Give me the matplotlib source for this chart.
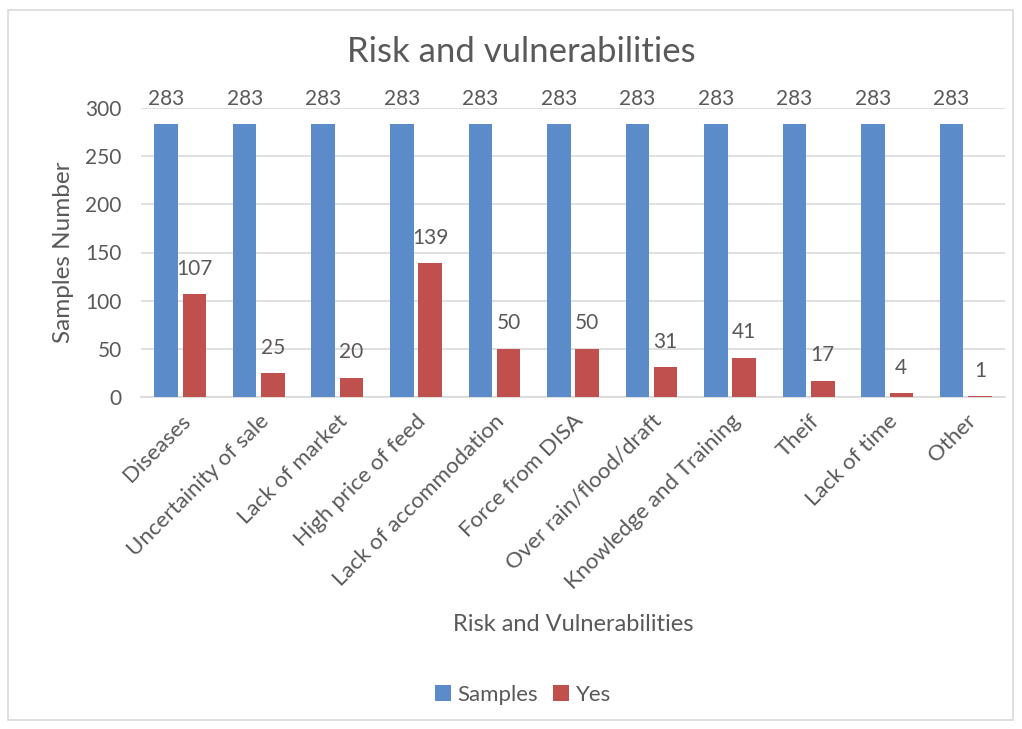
import matplotlib
matplotlib.use("Agg")
import matplotlib.pyplot as plt
import numpy as np
from matplotlib.patches import Rectangle

categories = ["Diseases", "Uncertainity of sale", "Lack of market", "High price of feed",
              "Lack of accommodation", "Force from DISA", "Over rain/flood/draft",
              "Knowledge and Training", "Theif", "Lack of time", "Other"]
samples = [283, 283, 283, 283, 283, 283, 283, 283, 283, 283, 283]
yes = [107, 25, 20, 139, 50, 50, 31, 41, 17, 4, 1]

plt.rcParams['font.family'] = ['Lato', 'DejaVu Sans']
txt = '#595959'
blue = '#5B8CC9'
red = '#C0504D'

fig = plt.figure(figsize=(10.22, 7.29), dpi=100)
fig.patches.append(Rectangle((8/1022, 9/729), 1005/1022, 710/729, transform=fig.transFigure,
                             fill=False, edgecolor='#D9D9D9', linewidth=1.2))
ax = fig.add_axes([141/1022, 1-397/729, (1005-141)/1022, (397-108)/729])

x = np.arange(len(categories))
w = 0.3
off = 0.18
b1 = ax.bar(x - off, samples, w, color=blue, label='Samples', zorder=3)
b2 = ax.bar(x + off, yes, w, color=red, label='Yes', zorder=3)
for rect, v in zip(b1, samples):
    ax.text(rect.get_x() + rect.get_width()/2, v + 16, str(v), ha='center', va='bottom',
            fontsize=15, color=txt)
for rect, v in zip(b2, yes):
    ax.text(rect.get_x() + rect.get_width()/2, v + 16, str(v), ha='center', va='bottom',
            fontsize=15, color=txt)

ax.set_xlim(-0.5, len(categories) - 0.5)
ax.set_ylim(0, 300)
ax.set_yticks(range(0, 301, 50))
ax.yaxis.grid(True, color='#D9D9D9', linewidth=1.2, zorder=0)
ax.set_axisbelow(True)
for s in ['top', 'right', 'left']:
    ax.spines[s].set_visible(False)
ax.spines['bottom'].set_color('#D9D9D9')
ax.spines['bottom'].set_linewidth(1.2)
ax.tick_params(axis='y', length=0, labelsize=15, colors=txt, pad=14)
ax.set_xticks(x)
ax.set_xticklabels(categories, rotation=45, ha='right', rotation_mode='anchor')
ax.tick_params(axis='x', length=0, labelsize=16, colors=txt, pad=10)

ax.set_ylabel('Samples Number', fontsize=17.5, color=txt, labelpad=8)
ax.set_xlabel('Risk and Vulnerabilities', fontsize=17, color=txt, labelpad=15)
fig.text(521/1022, 1 - 52/729, 'Risk and vulnerabilities', ha='center', va='center',
         fontsize=25, color=txt)

fig.legend(handles=[b1, b2], labels=['Samples', 'Yes'], loc='center',
           bbox_to_anchor=(523/1022, 1 - 695/729), ncol=2, frameon=False, fontsize=16,
           handlelength=0.7, handleheight=0.7, handletextpad=0.3, columnspacing=0.7,
           labelcolor=txt)

fig.savefig('out.png', dpi=100)
